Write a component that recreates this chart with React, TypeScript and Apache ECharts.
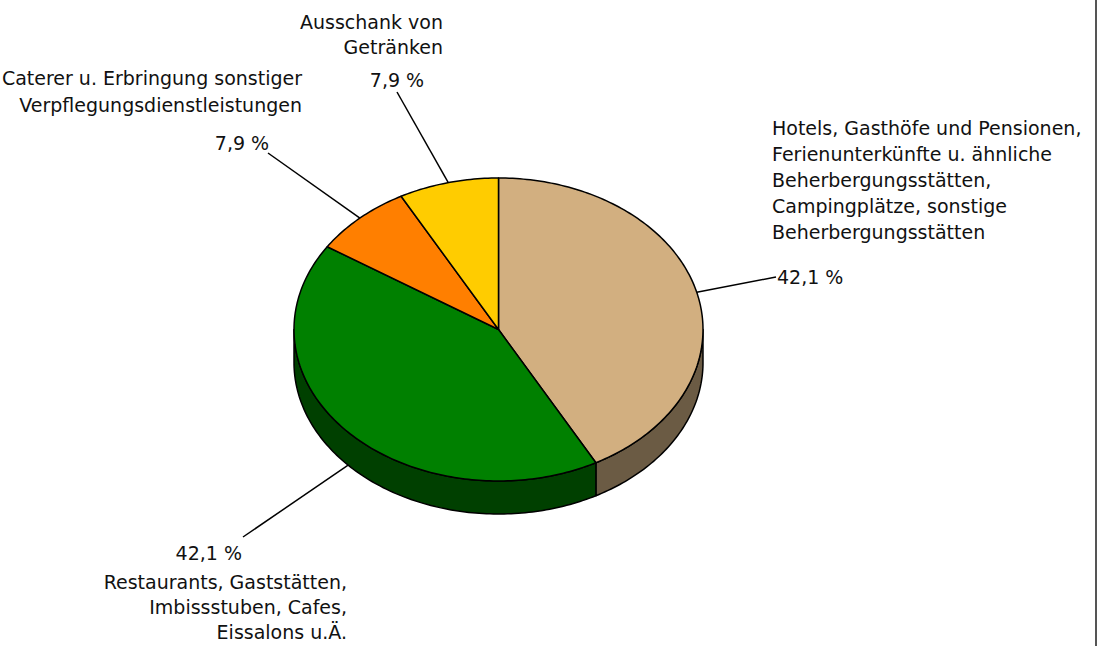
import React, { useEffect, useRef } from "react";
import * as echarts from "echarts";

// ---- data ----
const categories = [
  "Hotels, Gasthöfe und Pensionen,\nFerienunterkünfte u. ähnliche\nBeherbergungsstätten,\nCampingplätze, sonstige\nBeherbergungsstätten",
  "Restaurants, Gaststätten,\nImbissstuben, Cafes,\nEissalons u.Ä.",
  "Caterer u. Erbringung sonstiger\nVerpflegungsdienstleistungen",
  "Ausschank von\nGetränken",
];
const values = [42.1, 42.1, 7.9, 7.9];

// ---- styles ----
const topColors = ["#D2AF80", "#008000", "#FF7F00", "#FFCC00"];
const sideColors = ["#6B5B44", "#004000", "#7F3F00", "#7F6600"];

// ---- layout ----
const CX = 498.5;
const CY = 329.5;
const RX = 204.5;
const RY = 151.5;
const DEPTH = 33;
const FONT_FAMILY = '"DejaVu Sans", sans-serif';
const FONT_SIZE = 19;

const labelLayout = [
  { nx: 772, ny: 115, nAlign: "left", lh: 26, px: 777, py: 277, pAlign: "left", ex: 776, ey: 277 },
  { nx: 347, ny: 569.5, nAlign: "right", lh: 25, px: 242, py: 553, pAlign: "right", ex: 243, ey: 537 },
  { nx: 302, ny: 64.5, nAlign: "right", lh: 27, px: 242, py: 143, pAlign: "center", ex: 268, ey: 153 },
  { nx: 443, ny: 9.5, nAlign: "right", lh: 25, px: 397, py: 80, pAlign: "center", ex: 397, ey: 92 },
];

function pt(thetaDeg: number, dz = 0): number[] {
  const t = (thetaDeg * Math.PI) / 180;
  return [CX + RX * Math.cos(t), CY - RY * Math.sin(t) + dz];
}

function arc(from: number, to: number, dz = 0): number[][] {
  const pts: number[][] = [];
  const steps = Math.max(2, Math.ceil(Math.abs(from - to) / 1));
  for (let k = 0; k <= steps; k++) {
    pts.push(pt(from + ((to - from) * k) / steps, dz));
  }
  return pts;
}

const fmt = (v: number) => v.toFixed(1).replace(".", ",") + " %";

export default function App() {
  const ref = useRef<HTMLDivElement>(null);

  useEffect(() => {
    document.body.style.margin = "0";
    if (!ref.current) return;
    const chart = echarts.init(ref.current, undefined, { renderer: "svg" });

    const total = values.reduce((a, b) => a + b, 0);
    const starts: number[] = [];
    let acc = 0;
    values.forEach((v) => {
      starts.push(acc);
      acc += v;
    });

    const renderItem = (params: any, api: any) => {
      const i = params.dataIndex;
      const v = api.value(1);
      const s = 90 - (360 * starts[i]) / total;
      const e = s - (360 * v) / total;
      const children: any[] = [];

      // side walls (front half: theta in [-180, 0] + 360k)
      for (let k = -1; k <= 1; k++) {
        const lo = Math.max(e, -180 + 360 * k);
        const hi = Math.min(s, 0 + 360 * k);
        if (lo < hi) {
          const top = arc(hi, lo, 0);
          const bottom = arc(lo, hi, DEPTH);
          children.push({
            type: "polygon",
            z2: 1,
            shape: { points: top.concat(bottom) },
            style: { fill: sideColors[i], stroke: "#000", lineWidth: 1.5, lineJoin: "round" },
          });
        }
      }

      // top sector
      children.push({
        type: "polygon",
        z2: 2,
        shape: { points: [[CX, CY]].concat(arc(s, e, 0)) },
        style: { fill: topColors[i], stroke: "#000", lineWidth: 1.5, lineJoin: "round" },
      });

      // leader line
      const mid = (s + e) / 2;
      const front = Math.sin((mid * Math.PI) / 180) < 0;
      const p0 = pt(mid, front ? DEPTH : 0);
      const L = labelLayout[i];
      children.push({
        type: "line",
        z2: 0,
        shape: { x1: p0[0], y1: p0[1], x2: L.ex, y2: L.ey },
        style: { stroke: "#000", lineWidth: 1.5 },
      });

      // category name
      children.push({
        type: "text",
        z2: 3,
        x: L.nx,
        y: L.ny,
        style: {
          text: categories[i],
          fill: "#111",
          fontSize: FONT_SIZE,
          fontFamily: FONT_FAMILY,
          align: L.nAlign,
          verticalAlign: "top",
          lineHeight: L.lh,
        },
      });

      // percentage
      children.push({
        type: "text",
        z2: 3,
        x: L.px,
        y: L.py,
        style: {
          text: fmt(v),
          fill: "#111",
          fontSize: FONT_SIZE,
          fontFamily: FONT_FAMILY,
          align: L.pAlign,
          verticalAlign: "middle",
        },
      });

      return { type: "group", children };
    };

    chart.setOption({
      animation: false,
      backgroundColor: "#ffffff",
      series: [
        {
          type: "custom",
          coordinateSystem: "none",
          silent: true,
          data: values.map((v, i) => [i, v]),
          renderItem,
        },
      ],
      graphic: [
        {
          type: "line",
          shape: { x1: 1096, y1: 0, x2: 1096, y2: 646 },
          style: { stroke: "#555", lineWidth: 2 },
        },
      ],
    });

    return () => chart.dispose();
  }, []);

  return <div ref={ref} style={{ width: 1101, height: 646 }} />;
}
